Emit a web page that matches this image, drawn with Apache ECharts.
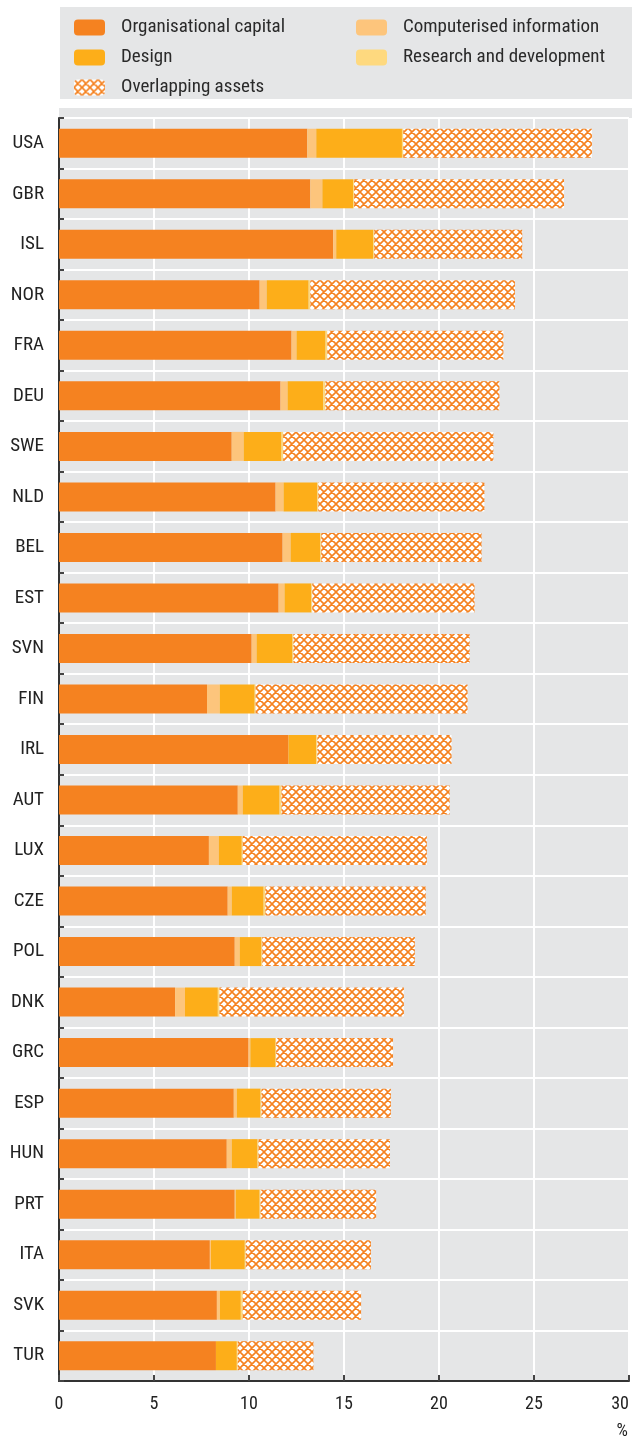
<!DOCTYPE html>
<html>
<head>
<meta charset="utf-8">
<script src="https://cdn.jsdelivr.net/npm/echarts@6/dist/echarts.min.js"></script>
<style>
html,body{margin:0;padding:0;background:#fff;}
#chart{width:632px;height:1437px;}
</style>
</head>
<body>
<div id="chart"></div>
<script>
const categories = ['USA','GBR','ISL','NOR','FRA','DEU','SWE','NLD','BEL','EST','SVN','FIN','IRL','AUT','LUX','CZE','POL','DNK','GRC','ESP','HUN','PRT','ITA','SVK','TUR'];
const organisational = [13.07,13.23,14.43,10.56,12.24,11.66,9.09,11.40,11.77,11.56,10.14,7.79,12.08,9.41,7.89,8.88,9.25,6.11,9.98,9.20,8.83,9.25,7.94,8.31,8.26];
const computerised   = [0.47,0.63,0.16,0.37,0.26,0.37,0.63,0.42,0.42,0.31,0.26,0.67,0,0.26,0.52,0.21,0.26,0.52,0.09,0.16,0.26,0.05,0.06,0.16,0];
const design         = [4.51,1.62,1.95,2.21,1.53,1.88,1.99,1.78,1.56,1.41,1.89,1.84,1.46,1.94,1.21,1.68,1.15,1.73,1.33,1.25,1.36,1.26,1.78,1.10,1.10];
const research       = [0.07,0.05,0.05,0.09,0.09,0.11,0.09,0.05,0.05,0.05,0.05,0.05,0.06,0.10,0.05,0.09,0.04,0.09,0.03,0.05,0.05,0.05,0.05,0.10,0.05];
const overlapping    = [9.93,11.05,7.79,10.77,9.27,9.16,11.06,8.74,8.44,8.54,9.27,11.15,7.06,8.85,9.69,8.44,8.03,9.70,6.15,6.81,6.92,6.08,6.59,6.23,3.98];
const xTicks = [0,5,10,15,20,25,30];

const FONT = "'Liberation Sans Narrow','Roboto Condensed','Liberation Sans',sans-serif";
const GREY = '#e5e6e7';
const C_ORG = '#f58220', C_DES = '#fdae19', C_COMP = '#fdc57c', C_RD = '#fed97f';

function makePattern(){
  const c = document.createElement('canvas');
  c.width = 8; c.height = 8;
  const g = c.getContext('2d');
  g.fillStyle = '#ffffff'; g.fillRect(0,0,8,8);
  g.strokeStyle = C_ORG; g.lineWidth = 1.6;
  g.beginPath();
  g.moveTo(0,0); g.lineTo(8,8);
  g.moveTo(8,0); g.lineTo(0,8);
  g.moveTo(-1,7); g.lineTo(1,9);
  g.moveTo(7,-1); g.lineTo(9,1);
  g.moveTo(-1,1); g.lineTo(1,-1);
  g.moveTo(7,9); g.lineTo(9,7);
  g.stroke();
  return c;
}
const pattern = {image: makePattern(), repeat: 'repeat'};

const chart = echarts.init(document.getElementById('chart'), null, {renderer:'canvas'});
function bar(name, data, color){
  return {name, type:'bar', stack:'total', data, barWidth:29, itemStyle:{color}, emphasis:{disabled:true}};
}
const legendText = {fontFamily: FONT, fontSize: 19, lineHeight: 19, color:'#2a2a2a', padding:[0,0,0,11]};
chart.setOption({
  animation:false,
  textStyle:{fontFamily:FONT},
  graphic:[
    {type:'rect', shape:{x:60,y:7,width:572,height:92}, style:{fill:GREY}, silent:true},
    {type:'rect', shape:{x:59,y:108,width:573,height:10}, style:{fill:GREY}, silent:true},
    {type:'text', right:4, top:1422, style:{text:'%', fontFamily:FONT, fontSize:18, fill:'#222'}}
  ],
  legend:[
    {orient:'vertical', left:69, top:13, itemWidth:31, itemHeight:16, itemGap:11,
     data:['Organisational capital','Design','Overlapping assets'], textStyle:legendText, selectedMode:false},
    {orient:'vertical', left:351, top:13, itemWidth:31, itemHeight:16, itemGap:11,
     data:['Computerised information','Research and development'], textStyle:legendText, selectedMode:false}
  ],
  grid:{left:59, right:0, top:118, bottom:56, show:true, backgroundColor:GREY, borderWidth:0},
  xAxis:{
    type:'value', min:0, max:30, interval:5,
    axisLine:{show:true, lineStyle:{color:'#333', width:2}},
    axisTick:{show:true, inside:true, length:6, lineStyle:{color:'#444', width:2}},
    axisLabel:{fontFamily:FONT, fontSize:18, color:'#222', margin:14, alignMaxLabel:'right',
      formatter: v => xTicks.includes(v) ? String(v) : ''},
    splitLine:{show:true, lineStyle:{color:'#fff', width:2}}
  },
  yAxis:{
    type:'category', data:categories, inverse:true,
    axisLine:{show:true, lineStyle:{color:'#333', width:2}},
    axisTick:{show:true, inside:true, length:5, lineStyle:{color:'#444', width:2}},
    axisLabel:{fontFamily:FONT, fontSize:19, color:'#222', margin:15},
    splitLine:{show:true, lineStyle:{color:'#fff', width:2}}
  },
  series:[
    bar('Organisational capital', organisational, C_ORG),
    bar('Computerised information', computerised, C_COMP),
    bar('Design', design, C_DES),
    bar('Research and development', research, C_RD),
    bar('Overlapping assets', overlapping, pattern)
  ]
});
</script>
</body>
</html>
